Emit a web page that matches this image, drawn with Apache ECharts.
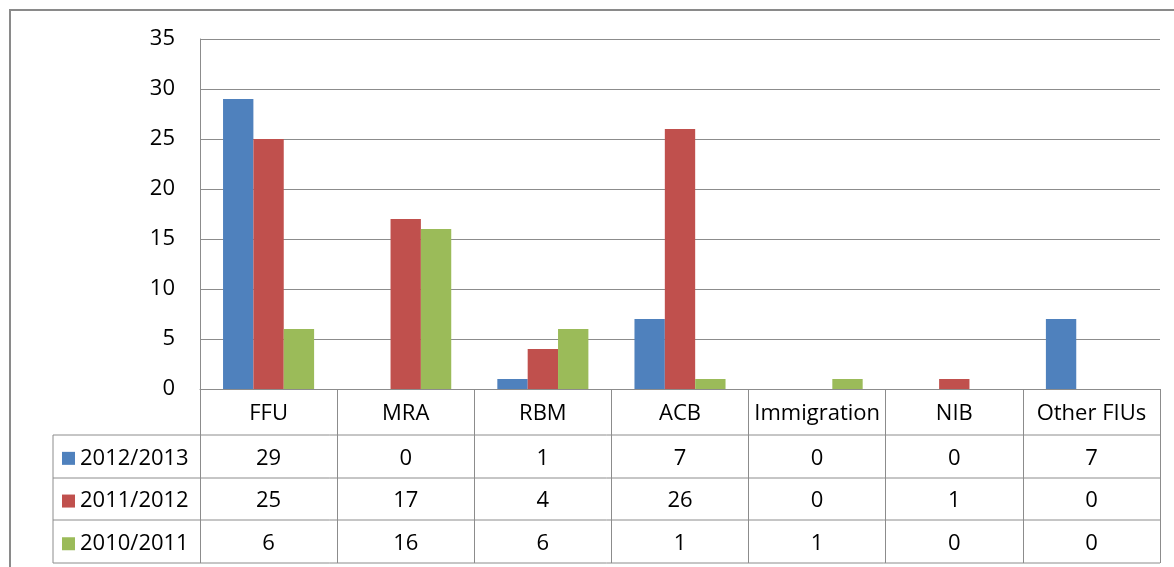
<!DOCTYPE html>
<html><head><meta charset="utf-8">
<script src="https://cdn.jsdelivr.net/npm/echarts@6/dist/echarts.min.js"></script>
<style>html,body{margin:0;padding:0;background:#fff}#c{width:1174px;height:567px}</style>
</head><body><div id="c"></div>
<script>
// ---- data ----
const categories = ['FFU', 'MRA', 'RBM', 'ACB', 'Immigration', 'NIB', 'Other FIUs'];
const seriesNames = ['2012/2013', '2011/2012', '2010/2011'];
const s2012_2013 = [29, 0, 1, 7, 0, 0, 7];
const s2011_2012 = [25, 17, 4, 26, 0, 1, 0];
const s2010_2011 = [6, 16, 6, 1, 1, 0, 0];
const yMin = 0, yMax = 35, yInterval = 5;

// ---- styles / layout ----
const colors = ['#4F81BD', '#C0504D', '#9BBB59'];
const FONT = 'Open Sans';
const FS = 22;
const lineCol = '#8c8c8c';
const gridL = 200, gridR = 1160, gridT = 39, gridB = 389;
const rowH = [46, 43, 42, 43];  // category row, then 3 data rows
const legendL = 53;

const rows = [s2012_2013, s2011_2012, s2010_2011];
const tableBottom = gridB + rowH.reduce((a, b) => a + b, 0);

const chart = echarts.init(document.getElementById('c'), null, {renderer: 'canvas'});

// outer frame + table horizontal lines
const graphics = [{
  type: 'rect', z: -10, silent: true,
  shape: {x: 10, y: 10, width: 1300, height: 700},
  style: {fill: null, stroke: '#8a8a8a', lineWidth: 2}
}];
let yy = gridB;
for (let i = 0; i < rowH.length; i++) {
  yy += rowH[i];
  graphics.push({type: 'line', silent: true, shape: {x1: legendL, y1: yy, x2: gridR, y2: yy},
    style: {stroke: lineCol, lineWidth: 1}});
}
graphics.push({type: 'line', silent: true,
  shape: {x1: legendL, y1: gridB + rowH[0], x2: legendL, y2: tableBottom},
  style: {stroke: lineCol, lineWidth: 1}});

const option = {
  backgroundColor: '#ffffff',
  animation: false,
  color: colors,
  textStyle: {fontFamily: FONT},
  grid: {left: gridL, right: 1174 - gridR, top: gridT, bottom: 567 - gridB, containLabel: false},
  legend: {
    data: seriesNames,
    orient: 'vertical',
    left: 62,
    top: gridB + rowH[0] + 2,
    padding: 0,
    itemGap: 0,
    itemWidth: 13,
    itemHeight: 13,
    icon: 'rect',
    selectedMode: false,
    textStyle: {fontFamily: FONT, fontSize: FS, color: '#000', lineHeight: 42.7}
  },
  xAxis: {
    type: 'category',
    data: categories,
    axisLine: {show: true, lineStyle: {color: lineCol, width: 1}},
    axisTick: {show: true, interval: 0, length: tableBottom - gridB, lineStyle: {color: lineCol, width: 1}},
    axisLabel: {
      interval: 0, margin: 2, color: '#000',
      formatter: function (value, idx) {
        return '{c|' + value + '}\n{r1|' + rows[0][idx] + '}\n{r2|' + rows[1][idx] + '}\n{r3|' + rows[2][idx] + '}';
      },
      rich: {
        c: {fontFamily: FONT, fontSize: FS, lineHeight: rowH[0], color: '#000'},
        r1: {fontFamily: FONT, fontSize: FS, lineHeight: rowH[1], color: '#000'},
        r2: {fontFamily: FONT, fontSize: FS, lineHeight: rowH[2], color: '#000'},
        r3: {fontFamily: FONT, fontSize: FS, lineHeight: rowH[3], color: '#000'}
      }
    },
    splitLine: {show: false}
  },
  yAxis: {
    type: 'value',
    min: yMin, max: yMax, interval: yInterval,
    axisLine: {show: true, lineStyle: {color: lineCol, width: 1}},
    axisTick: {show: false},
    axisLabel: {fontFamily: FONT, fontSize: FS, color: '#000', margin: 25},
    splitLine: {show: true, lineStyle: {color: lineCol, width: 1}}
  },
  series: [
    {name: seriesNames[0], type: 'bar', data: s2012_2013, barGap: '0%', barCategoryGap: '33.6%'},
    {name: seriesNames[1], type: 'bar', data: s2011_2012, barGap: '0%', barCategoryGap: '33.6%'},
    {name: seriesNames[2], type: 'bar', data: s2010_2011, barGap: '0%', barCategoryGap: '33.6%'}
  ],
  graphic: graphics
};
chart.setOption(option);
</script>
</body></html>
